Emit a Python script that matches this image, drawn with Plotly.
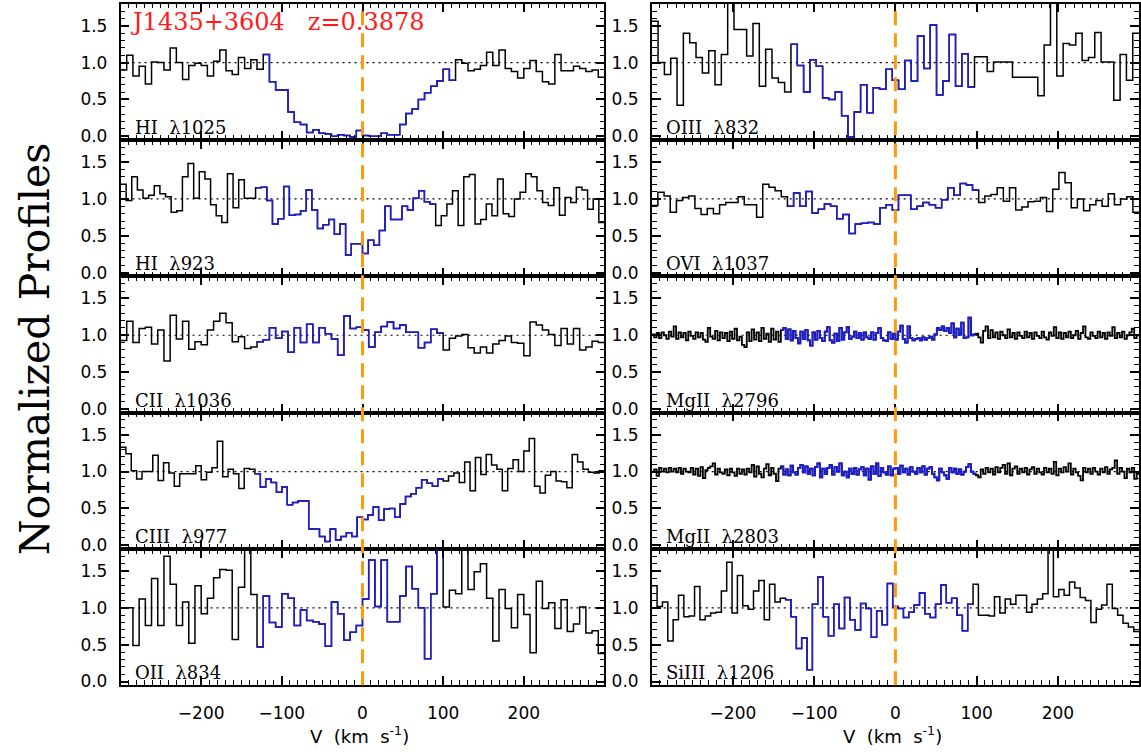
import plotly.graph_objects as go
from plotly.subplots import make_subplots

W, H = 1141, 756

# Normalized flux per velocity bin (bins span -300..+300 km/s)
hi1025 = [0.90, 1.10, 0.82, 0.95, 0.71, 1.01, 1.00, 0.90, 1.20, 1.00, 0.77, 0.96, 0.99, 0.96, 0.82, 1.02,
          1.17, 0.89, 0.84, 1.07, 0.92, 1.04, 0.91, 1.11, 0.74, 0.63, 0.63, 0.33, 0.19, 0.16, 0.05, 0.09,
          0.04, 0.03, 0.00, 0.02, 0.01, -0.01, 0.08, 0.01, 0.00, 0.00, 0.04, 0.02, 0.02, 0.16, 0.31, 0.37,
          0.50, 0.59, 0.68, 0.75, 0.91, 0.76, 1.04, 0.99, 0.89, 0.91, 0.96, 1.14, 0.96, 1.17, 0.92, 0.88,
          0.79, 0.92, 1.03, 0.88, 0.74, 0.71, 1.11, 0.89, 0.89, 0.95, 0.92, 0.88, 0.90, 0.80]
hi923 = [1.20, 0.98, 1.30, 1.12, 1.01, 1.05, 1.18, 1.07, 1.03, 0.82, 0.84, 1.30, 1.48, 1.01, 1.37, 1.27,
         0.92, 0.77, 0.68, 1.34, 0.88, 1.26, 1.01, 1.01, 1.15, 1.16, 0.98, 0.66, 0.73, 1.17, 0.78, 0.79,
         0.84, 1.12, 0.85, 0.60, 0.65, 0.72, 0.52, 0.66, 0.24, 0.39, 0.39, 0.26, 0.44, 0.37, 0.57, 0.90,
         0.72, 0.72, 0.90, 0.85, 1.01, 1.11, 0.96, 0.93, 0.64, 0.77, 0.93, 1.11, 0.64, 1.30, 1.33, 0.66,
         0.72, 0.93, 0.77, 1.27, 0.80, 0.76, 1.00, 1.09, 1.34, 1.30, 1.11, 0.95, 0.91, 1.15, 0.78, 1.02,
         0.95, 1.16, 1.12, 0.86, 1.00, 0.68]
cii1036 = [0.93, 1.19, 0.90, 1.09, 1.11, 0.88, 1.07, 0.65, 1.27, 0.95, 1.19, 0.81, 0.91, 0.87, 1.07, 1.19,
           1.30, 1.17, 0.91, 0.98, 0.82, 0.84, 0.91, 0.94, 1.10, 0.96, 1.05, 0.77, 1.10, 0.90, 1.15, 0.90,
           1.10, 1.02, 0.95, 0.73, 1.26, 1.09, 1.11, 1.07, 0.84, 1.04, 1.12, 1.18, 1.09, 1.14, 1.04, 1.04,
           0.83, 0.90, 1.08, 1.03, 0.80, 0.96, 0.99, 1.01, 0.83, 0.76, 0.84, 0.76, 0.88, 0.93, 0.99, 0.90,
           0.89, 0.72, 1.18, 1.14, 1.07, 1.01, 0.86, 1.09, 0.88, 1.09, 0.80, 0.84, 0.92, 0.90]
ciii977 = [1.33, 1.24, 1.01, 0.90, 1.00, 1.00, 1.22, 0.88, 1.12, 0.98, 0.80, 0.97, 0.97, 0.97, 1.08, 0.89,
           0.99, 1.05, 1.41, 0.93, 1.03, 0.97, 0.77, 1.04, 1.03, 0.97, 0.79, 0.90, 0.85, 0.72, 0.79, 0.55,
           0.58, 0.60, 0.60, 0.22, 0.22, 0.12, 0.05, 0.22, 0.07, 0.12, 0.17, 0.12, 0.38, 0.35, 0.41, 0.52,
           0.34, 0.49, 0.50, 0.38, 0.56, 0.66, 0.70, 0.78, 0.89, 0.84, 0.80, 0.90, 0.87, 0.94, 0.98, 0.85,
           1.13, 0.74, 1.19, 0.96, 1.23, 1.09, 1.03, 0.74, 1.04, 1.16, 1.00, 1.28, 1.45, 0.80, 0.71, 0.95,
           1.00, 0.87, 0.86, 0.78, 1.23, 1.13, 1.03, 0.99, 0.98, 1.01]
oii834 = [1.00, 1.00, 0.49, 1.12, 0.76, 1.40, 0.76, 1.70, 1.32, 0.76, 1.08, 0.52, 1.30, 0.92, 1.13, 1.41,
          1.52, 1.51, 0.57, 1.28, 1.85, 1.18, 0.47, 1.16, 0.80, 0.74, 1.19, 1.13, 0.76, 0.97, 0.83, 0.81,
          0.78, 0.48, 1.08, 0.92, 0.56, 0.67, 0.76, 1.12, 1.65, 1.02, 1.65, 0.81, 0.81, 1.16, 1.56, 1.26,
          1.00, 0.31, 1.19, 1.85, 1.01, 1.24, 1.19, 1.85, 1.25, 1.49, 1.60, 1.13, 0.55, 1.25, 0.99, 0.73,
          1.18, 0.91, 0.39, 1.36, 0.99, 1.07, 0.72, 1.11, 0.68, 0.78, 1.01, 0.66, 0.69, 0.38]
oiii832 = [1.56, 1.00, 0.84, 1.06, 0.42, 1.40, 1.27, 1.07, 0.86, 1.16, 0.70, 1.11, 1.85, 1.45, 1.45, 1.09,
           1.53, 0.68, 1.18, 0.79, 0.73, 0.60, 1.25, 0.96, 0.60, 1.04, 0.95, 0.52, 0.50, 0.60, 0.28, -0.01,
           0.33, 0.70, 0.32, 0.66, 0.64, 0.91, 0.76, 0.64, 1.03, 0.75, 1.36, 0.92, 1.51, 0.56, 0.75, 1.38,
           0.68, 1.12, 0.67, 1.08, 1.08, 0.88, 1.01, 1.01, 1.01, 0.80, 0.80, 0.80, 0.80, 0.55, 1.24, 1.85,
           0.82, 1.26, 1.24, 1.40, 1.03, 1.07, 1.41, 1.01, 1.01, 0.49, 1.11, 0.76, 1.40]
ovi1037 = [0.91, 1.09, 1.04, 0.82, 0.98, 1.02, 1.04, 0.87, 0.79, 0.87, 0.80, 0.92, 0.95, 0.95, 1.03, 0.92,
           0.92, 0.75, 1.20, 1.16, 1.11, 1.03, 0.90, 1.08, 0.90, 1.10, 0.81, 0.86, 0.93, 0.90, 0.73, 0.79,
           0.53, 0.66, 0.67, 0.68, 0.66, 0.88, 0.92, 0.85, 1.05, 1.05, 0.86, 0.90, 0.95, 0.92, 0.88, 0.99,
           1.15, 1.05, 1.21, 1.19, 1.12, 0.95, 1.04, 1.06, 1.15, 0.97, 1.15, 0.85, 0.89, 0.96, 0.97, 1.02,
           0.83, 1.13, 1.36, 1.22, 0.88, 1.00, 0.84, 0.92, 0.98, 0.90, 1.07, 0.92, 1.00, 1.03, 0.82]
mgii2796 = [1.01, 0.97, 1.03, 0.96, 1.04, 1.00, 0.95, 1.05, 0.98, 1.12,
            0.95, 1.04, 0.97, 1.03, 0.93, 1.05, 0.99, 0.95, 1.04, 0.97,
            1.03, 0.94, 0.91, 1.10, 0.98, 0.95, 1.06, 0.93, 1.04, 0.96,
            1.03, 0.92, 1.05, 0.95, 1.09, 0.93, 0.98, 0.87, 0.84, 1.04,
            0.92, 1.08, 0.94, 1.04, 0.92, 1.10, 0.95, 1.02, 0.91, 1.09,
            0.94, 1.05, 0.91, 1.07, 1.10, 0.95, 1.08, 0.93, 1.06, 0.96,
            0.89, 1.05, 0.95, 1.07, 0.93, 0.86, 1.04, 0.94, 1.06, 0.96,
            0.92, 1.05, 1.11, 0.93, 0.90, 1.02, 0.92, 1.10, 0.94, 1.04,
            1.11, 0.95, 0.98, 1.05, 0.96, 1.03, 0.94, 1.04, 0.97, 0.95,
            1.04, 0.94, 1.03, 1.10, 0.96, 0.93, 0.92, 1.04, 0.95, 1.02,
            0.94, 1.05, 1.13, 0.95, 0.90, 1.12, 0.96, 0.93, 0.95, 0.96,
            0.93, 0.97, 0.94, 0.96, 0.98, 0.94, 1.01, 1.10, 1.07, 1.12,
            1.06, 1.10, 1.03, 1.16, 0.97, 1.09, 1.01, 1.17, 0.96, 0.97,
            1.24, 1.00, 1.01, 1.02, 0.97, 0.90, 1.06, 1.12, 0.96, 1.07,
            0.97, 1.04, 0.95, 1.05, 1.00, 0.96, 1.08, 0.97, 1.03, 0.95,
            1.04, 0.99, 0.96, 1.05, 0.97, 1.03, 0.95, 1.04, 0.99, 0.96,
            1.05, 0.97, 0.94, 1.04, 0.99, 1.11, 0.96, 1.04, 0.95, 1.03,
            0.97, 1.05, 0.96, 1.00, 1.06, 0.95, 1.03, 1.12, 0.97, 0.95,
            1.04, 0.99, 0.96, 1.05, 0.97, 1.03, 0.95, 1.04, 0.99, 1.11,
            0.96, 1.03, 0.97, 1.05, 0.95, 1.00, 1.04, 1.09, 0.96, 1.00]
mgii2803 = [1.00, 1.03, 0.94, 1.05, 1.00, 1.04, 0.99, 1.05, 1.00, 1.04,
            0.99, 1.05, 0.97, 1.04, 1.00, 0.99, 1.05, 0.96, 1.04, 0.94,
            1.06, 0.91, 1.02, 1.05, 1.07, 1.11, 0.96, 1.04, 0.99, 0.97,
            1.03, 0.95, 1.04, 0.99, 0.94, 1.04, 0.97, 1.03, 0.96, 1.04,
            0.99, 1.09, 0.93, 1.07, 0.97, 0.92, 1.04, 1.10, 0.95, 1.05,
            0.97, 0.87, 1.04, 1.07, 0.96, 1.03, 0.95, 1.08, 0.99, 0.96,
            1.05, 1.09, 0.99, 1.07, 0.97, 1.04, 0.95, 1.06, 1.11, 0.92,
            1.04, 0.97, 1.05, 1.09, 0.96, 1.06, 1.00, 1.11, 0.95, 1.00,
            0.92, 1.04, 0.97, 1.05, 0.96, 1.03, 1.06, 0.95, 1.04, 0.89,
            1.07, 0.97, 1.11, 0.94, 1.05, 0.99, 0.96, 1.07, 0.95, 1.04,
            1.05, 0.97, 1.08, 0.99, 1.04, 0.96, 1.06, 1.00, 0.97, 1.05,
            0.99, 1.07, 0.96, 1.04, 1.06, 0.97, 0.92, 0.88, 1.04, 0.99,
            0.95, 0.90, 1.05, 0.99, 1.04, 0.97, 1.03, 0.96, 1.00, 1.06,
            1.10, 1.00, 0.97, 0.95, 0.92, 1.03, 0.97, 1.05, 0.99, 1.04,
            0.96, 1.06, 0.99, 1.05, 1.09, 0.97, 1.11, 0.95, 1.04, 1.07,
            0.97, 1.04, 0.99, 1.05, 0.96, 1.03, 1.06, 0.97, 1.04, 0.99,
            0.96, 1.05, 0.99, 1.04, 0.97, 1.13, 0.95, 1.04, 0.99, 1.06,
            1.00, 1.11, 0.96, 1.04, 0.99, 0.94, 0.88, 1.05, 0.99, 1.04,
            0.97, 1.05, 1.00, 0.96, 1.04, 0.99, 1.06, 0.97, 1.03, 1.05,
            1.15, 0.97, 1.05, 1.00, 0.91, 1.04, 0.99, 1.05, 0.90, 0.97]
siiii1206 = [1.30, 1.02, 1.08, 0.55, 0.84, 1.17, 0.88, 0.89, 1.29, 0.84, 0.89, 0.93, 0.94, 1.23, 1.62, 0.93,
             1.44, 1.03, 0.98, 1.23, 1.37, 0.84, 1.32, 1.08, 1.13, 1.11, 0.88, 0.45, 0.59, 0.16, 1.05, 1.42,
             0.88, 0.62, 1.05, 0.72, 1.14, 0.84, 0.70, 1.06, 0.99, 0.60, 0.96, 0.77, 1.33, 1.02, 0.99, 0.87,
             0.94, 1.04, 1.20, 0.92, 0.87, 1.05, 1.31, 1.07, 1.13, 0.90, 0.69, 1.05, 1.32, 0.90, 0.90, 0.89,
             1.15, 0.93, 1.12, 1.05, 1.17, 1.17, 0.94, 1.05, 1.12, 1.19, 1.85, 1.15, 1.25, 1.17, 1.35, 1.27,
             1.14, 1.10, 0.80, 0.98, 1.04, 1.32, 0.99, 0.90, 0.79, 0.74, 0.68]

# Panel order: left column top->bottom, right column top->bottom
left_names = ["HI\u00a0\u00a0\u03bb1025", "HI\u00a0\u00a0\u03bb923", "CII\u00a0\u00a0\u03bb1036",
              "CIII\u00a0\u00a0\u03bb977", "OII\u00a0\u00a0\u03bb834"]
right_names = ["OIII\u00a0\u00a0\u03bb832", "OVI\u00a0\u00a0\u03bb1037", "MgII\u00a0\u00a0\u03bb2796",
               "MgII\u00a0\u00a0\u03bb2803", "SiIII\u00a0\u00a0\u03bb1206"]
left_flux = [hi1025, hi923, cii1036, ciii977, oii834]
right_flux = [oiii832, ovi1037, mgii2796, mgii2803, siiii1206]
# Velocity window of the absorber component (km/s), highlighted in blue
left_window = [(-125, 113), (-132, 91), (-130, 100), (-132, 100), (-130, 100)]
right_window = [(-130, 97), (-132, 100), (-141, 100), (-141, 98), (-133, 95)]

v_span = [-300, 300]          # velocity extent of the binned spectra
v_view = [-299.9, 299.9]      # displayed window (keeps the ±300 edge labels off)
y_range = [-0.05, 1.8]
title_text = "J1435+3604\u00a0\u00a0\u00a0z=0.3878"

# ---- layout geometry (pixels) ----
col_px = [(120.6, 604.4), (651.8, 1139.0)]
top0, ph = 3.7, 137.4


def fx(p):
    return p / W


def fy(p):
    return 1 - p / H


BLACK = "black"
BLUE = "#1c1cd8"
ORANGE = "#ff9a0a"

fig = make_subplots(rows=5, cols=2)

annotations = []
shapes = []
for c, (names, fluxes, windows) in enumerate([(left_names, left_flux, left_window),
                                              (right_names, right_flux, right_window)]):
    for r in range(5):
        vals = fluxes[r]
        n = len(vals)
        dv = (v_span[1] - v_span[0]) / n
        edges = [v_span[0] + dv * i for i in range(n + 1)]
        ys = list(vals) + [vals[-1]]
        lw = 1.8 if n > 150 else 1.5
        fig.add_trace(go.Scatter(x=edges, y=ys, mode="lines",
                                 line=dict(color=BLACK, width=lw, shape="hv"),
                                 showlegend=False, hoverinfo="skip"), row=r + 1, col=c + 1)
        b0, b1 = windows[r]
        idx = [i for i in range(n) if b0 <= v_span[0] + dv * (i + 0.5) <= b1]
        i0, i1 = idx[0], idx[-1]
        bx = edges[i0:i1 + 2]
        by = list(vals[i0:i1 + 1]) + [vals[i1]]
        fig.add_trace(go.Scatter(x=bx, y=by, mode="lines",
                                 line=dict(color=BLUE, width=lw, shape="hv"),
                                 showlegend=False, hoverinfo="skip"), row=r + 1, col=c + 1)

        top = top0 + r * ph
        bot = top + ph
        x0p, x1p = col_px[c]
        fig.update_xaxes(domain=[fx(x0p), fx(x1p)], range=v_view,
                         showline=True, linecolor=BLACK, linewidth=1.5, mirror="allticks",
                         ticks="inside", ticklen=9, tickwidth=1.5, tickcolor=BLACK,
                         tickmode="linear", tick0=0, dtick=100,
                         minor=dict(ticks="inside", ticklen=5, tickwidth=1.2, tickcolor=BLACK,
                                    tickmode="linear", tick0=0, dtick=10),
                         showgrid=False, zeroline=False,
                         showticklabels=(r == 4), ticklabelstandoff=12,
                         tickfont=dict(family="DejaVu Sans", size=17, color=BLACK),
                         row=r + 1, col=c + 1)
        fig.update_yaxes(domain=[fy(bot), fy(top)], range=y_range,
                         showline=True, linecolor=BLACK, linewidth=1.5, mirror="allticks",
                         ticks="inside", ticklen=9, tickwidth=1.5, tickcolor=BLACK,
                         tickmode="linear", tick0=0, dtick=0.5, tickformat=".1f",
                         minor=dict(ticks="inside", ticklen=5, tickwidth=1.2, tickcolor=BLACK,
                                    tickmode="linear", tick0=0, dtick=0.1),
                         showgrid=False, zeroline=False, ticklabelstandoff=8,
                         tickfont=dict(family="DejaVu Sans", size=17, color=BLACK),
                         row=r + 1, col=c + 1)

        k = r * 2 + c + 1
        ax = "" if k == 1 else str(k)
        # continuum level
        shapes.append(dict(type="line", xref="x" + ax, yref="y" + ax,
                           x0=v_span[0], x1=v_span[1], y0=1, y1=1,
                           line=dict(color=BLACK, width=1.2, dash="2px,4px"), layer="below"))
        annotations.append(dict(text=names[r], xref="paper", yref="paper",
                                x=fx(x0p + 12), y=fy(top + 125), xanchor="left", yanchor="middle",
                                showarrow=False,
                                font=dict(family="DejaVu Serif", size=18, color=BLACK)))

    # systemic velocity marker through the whole column
    shapes.append(dict(type="line", xref="x" if c == 0 else "x2", yref="paper",
                       x0=0, x1=0, y0=fy(top0 + 5 * ph), y1=fy(top0),
                       line=dict(color=ORANGE, width=3, dash="14px,8px"), layer="above"))
    xc = (col_px[c][0] + col_px[c][1]) / 2
    annotations.append(dict(text="V\u00a0\u00a0(km\u00a0\u00a0s<sup>-1</sup>)", xref="paper", yref="paper",
                            x=fx(xc - 3), y=fy(741), xanchor="center", yanchor="middle", showarrow=False,
                            font=dict(family="DejaVu Sans", size=18, color=BLACK)))

annotations.append(dict(text=title_text, xref="paper", yref="paper", x=fx(128), y=fy(22),
                        xanchor="left", yanchor="middle", showarrow=False,
                        font=dict(family="DejaVu Serif", size=24, color="#ff1a1a")))
annotations.append(dict(text="Normalized Profiles", xref="paper", yref="paper", x=fx(35), y=fy(352),
                        xanchor="center", yanchor="middle", textangle=-90, showarrow=False,
                        font=dict(family="DejaVu Serif", size=41, color=BLACK)))

fig.update_layout(width=W, height=H, margin=dict(l=0, r=0, t=0, b=0),
                  paper_bgcolor="white", plot_bgcolor="white",
                  shapes=shapes, annotations=annotations, showlegend=False)

fig.write_html("out.html")
